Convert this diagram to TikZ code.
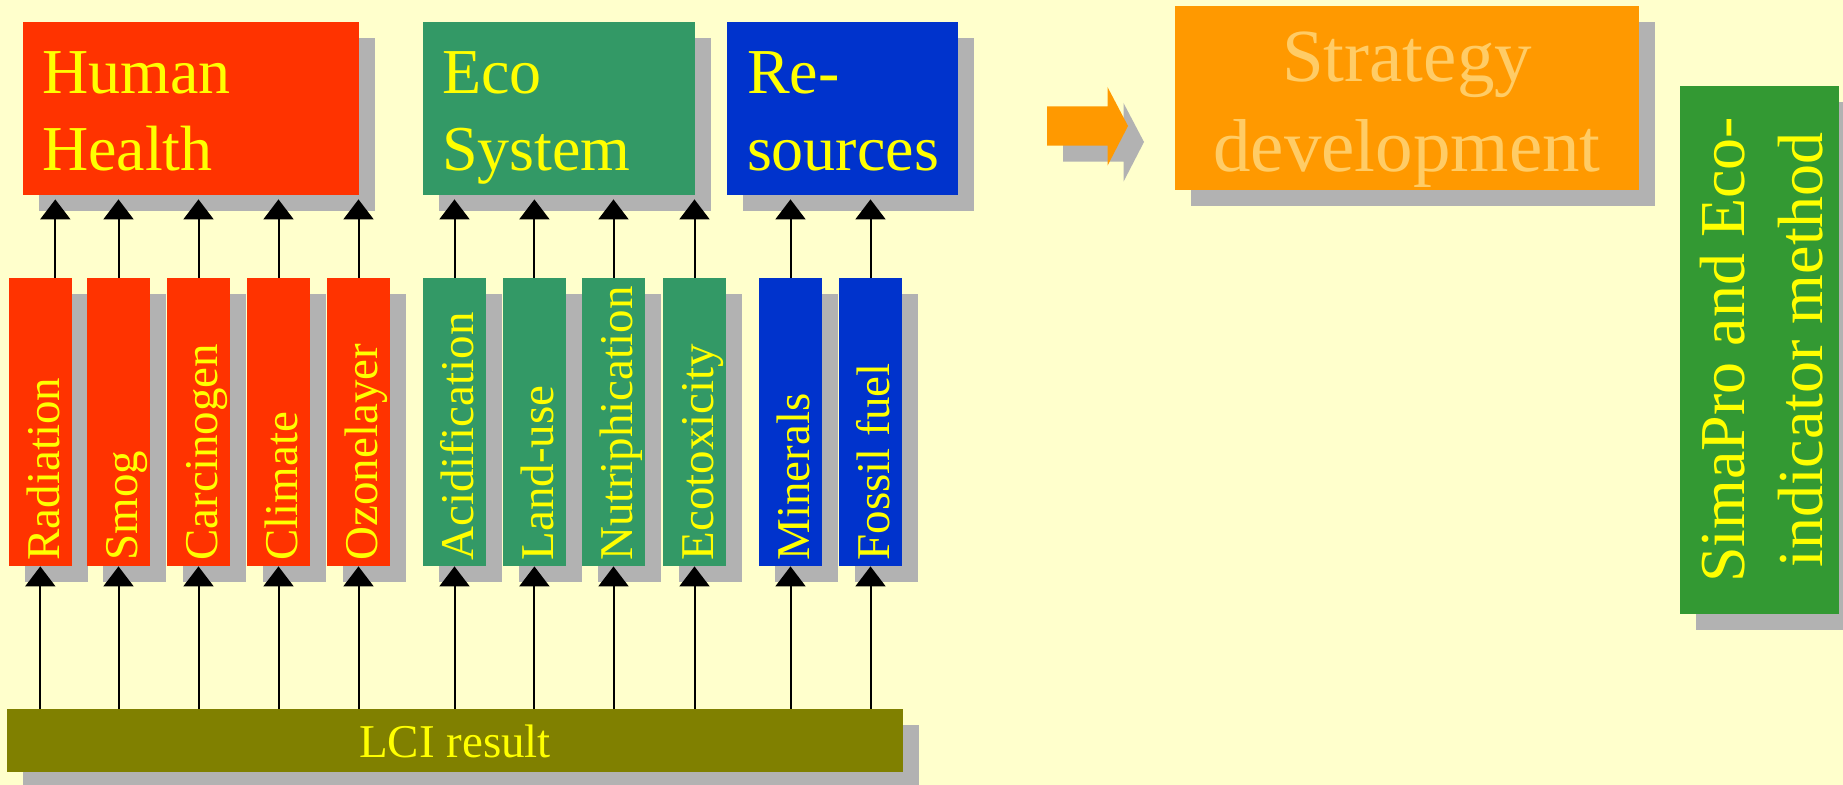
\documentclass[tikz,border=0pt]{standalone}
\usepackage{fontspec}
\setmainfont{Liberation Serif}
\usetikzlibrary{shadows,arrows.meta}
\definecolor{bg}{HTML}{FFFFCC}
\definecolor{hred}{HTML}{FF3300}
\definecolor{egreen}{HTML}{339966}
\definecolor{rblue}{HTML}{0033CC}
\definecolor{sorange}{HTML}{FF9900}
\definecolor{sgreen}{HTML}{339933}
\definecolor{olivebox}{HTML}{808000}
\definecolor{shadowgray}{HTML}{B2B2B2}
\definecolor{txtyellow}{HTML}{FFFF00}
\definecolor{txtorange}{HTML}{FFCC66}
\begin{document}
\begin{tikzpicture}[x=0.5pt,y=-0.5pt,
  box/.style={rectangle, inner sep=0pt, draw=none,
    drop shadow={shadow xshift=8pt,shadow yshift=-8pt,opacity=1,fill=shadowgray}},
  small/.style={box, minimum width=31.5pt, minimum height=144pt},
  big/.style={box, minimum height=86.5pt},
  vlabel/.style={rotate=90, anchor=base west, inner sep=0pt, text=txtyellow,
    font=\fontsize{23.5}{28}\selectfont},
  blabel/.style={anchor=base west, inner sep=0pt, text=txtyellow,
    font=\fontsize{32}{38}\selectfont},
  arr/.style={line width=1pt, -{Triangle[width=15pt,length=10pt]}},
]
\fill[bg] (0,0) rectangle (1843,785);
\useasboundingbox (0,0) rectangle (1843,785);

% big category boxes
\node[big, fill=hred, minimum width=168pt] (hh) at (191,108.5) {};
\node[big, fill=egreen, minimum width=136pt] (eco) at (559,108.5) {};
\node[big, fill=rblue, minimum width=115.5pt] (res) at (842.5,108.5) {};
\node[blabel] (hh1) at ([xshift=9.5pt,yshift=-36.15pt]hh.north west) {Human};
\node[blabel] (hh2) at ([xshift=9.5pt,yshift=-74.5pt]hh.north west) {Health};
\node[blabel] (eco1) at ([xshift=9.5pt,yshift=-36.15pt]eco.north west) {Eco};
\node[blabel] (eco2) at ([xshift=9.5pt,yshift=-74.5pt]eco.north west) {System};
\node[blabel] (res1) at ([xshift=10pt,yshift=-36.15pt]res.north west) {Re-};
\node[blabel] (res2) at ([xshift=10pt,yshift=-74.5pt]res.north west) {sources};

% strategy box
\node[box, fill=sorange, minimum width=232pt, minimum height=92pt] (st) at (1407,98) {};
\node[anchor=base, inner sep=0pt, text=txtorange, font=\fontsize{37.5}{45}\selectfont]
  (st1) at ([yshift=-37.85pt]st.north) {Strategy};
\node[anchor=base, inner sep=0pt, text=txtorange, font=\fontsize{37.5}{45}\selectfont]
  (st2) at ([yshift=-82.85pt]st.north) {development};

% simapro box
\node[box, fill=sgreen, minimum width=79.5pt, minimum height=264pt] (sp) at (1759.5,350) {};
\node[rotate=90, anchor=base, inner sep=0pt, text=txtyellow, font=\fontsize{32}{38}\selectfont]
  (sp1) at ([xshift=32.5pt]sp.west) {SimaPro and Eco-};
\node[rotate=90, anchor=base, inner sep=0pt, text=txtyellow, font=\fontsize{32}{38}\selectfont]
  (sp2) at ([xshift=71.5pt]sp.west) {indicator method};

% orange block arrow
\fill[shadowgray] (1063,122.3) -- (1123.5,122.3) -- (1123.5,103) -- (1144,142)
  -- (1123.5,181.7) -- (1123.5,161.7) -- (1063,161.7) -- cycle;
\fill[sorange] (1047,106.3) -- (1107.5,106.3) -- (1107.5,87) -- (1128,126)
  -- (1107.5,165.7) -- (1107.5,145.7) -- (1047,145.7) -- cycle;

% LCI box
\node[box, fill=olivebox, minimum width=448pt, minimum height=31.5pt] (lci) at (455,740.5) {};
\node[anchor=base, inner sep=0pt, text=txtyellow, font=\fontsize{23.5}{28}\selectfont]
  (lcit) at ([yshift=7.35pt]lci.south) {LCI result};

% small impact boxes
\node[small, fill=hred] (s1) at (40.3,422) {};
\node[small, fill=hred] (s2) at (118.5,422) {};
\node[small, fill=hred] (s3) at (198.5,422) {};
\node[small, fill=hred] (s4) at (278.5,422) {};
\node[small, fill=hred] (s5) at (358.5,422) {};
\node[small, fill=egreen] (s6) at (454.5,422) {};
\node[small, fill=egreen] (s7) at (534.4,422) {};
\node[small, fill=egreen] (s8) at (613.5,422) {};
\node[small, fill=egreen] (s9) at (694.5,422) {};
\node[small, fill=rblue] (s10) at (790.5,422) {};
\node[small, fill=rblue] (s11) at (870.5,422) {};

\node[vlabel] (t1) at ([xshift=-6.5pt,yshift=2.75pt]s1.south east) {Radiation};
\node[vlabel] (t2) at ([xshift=-6.5pt,yshift=2.75pt]s2.south east) {Smog};
\node[vlabel] (t3) at ([xshift=-6.5pt,yshift=2.75pt]s3.south east) {Carcinogen};
\node[vlabel] (t4) at ([xshift=-6.5pt,yshift=2.75pt]s4.south east) {Climate};
\node[vlabel] (t5) at ([xshift=-6.5pt,yshift=2.75pt]s5.south east) {Ozonelayer};
\node[vlabel] (t6) at ([xshift=-6.5pt,yshift=2.75pt]s6.south east) {Acidification};
\node[vlabel] (t7) at ([xshift=-6.5pt,yshift=2.75pt]s7.south east) {Land-use};
\node[vlabel] (t8) at ([xshift=-6.5pt,yshift=2.75pt]s8.south east) {Nutriphication};
\node[vlabel] (t9) at ([xshift=-6.5pt,yshift=2.75pt]s9.south east) {Ecotoxicity};
\node[vlabel] (t10) at ([xshift=-6.5pt,yshift=2.75pt]s10.south east) {Minerals};
\node[vlabel] (t11) at ([xshift=-6.5pt,yshift=2.75pt]s11.south east) {Fossil fuel};

% arrows from LCI to impact boxes
\foreach \s in {s1,s2,s3,s4,s5,s6,s7,s8,s9,s10,s11}
  \draw[arr] (lci.north -| \s.south) -- (\s.south);

% arrows from impact boxes to categories
\draw[arr, shorten >=2pt] ([xshift=7.5pt]s1.north) -- ([xshift=7.5pt]s1.north |- hh.south);
\foreach \s in {s2,s3,s4,s5}
  \draw[arr, shorten >=2pt] (\s.north) -- (\s.north |- hh.south);
\foreach \s in {s6,s7,s8,s9}
  \draw[arr, shorten >=2pt] (\s.north) -- (\s.north |- eco.south);
\foreach \s in {s10,s11}
  \draw[arr, shorten >=2pt] (\s.north) -- (\s.north |- res.south);
\end{tikzpicture}
\end{document}
